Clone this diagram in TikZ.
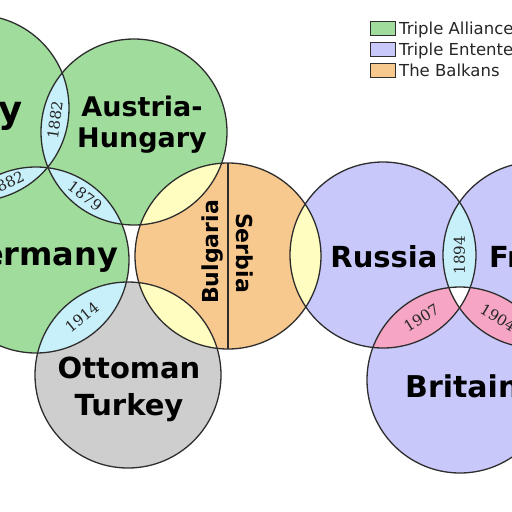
\documentclass[tikz,border=0pt]{standalone}
\usepackage{fontspec}
\setmainfont{DejaVu Sans}
\newfontfamily\yearfont{DejaVu Serif}
\usetikzlibrary{calc}

\definecolor{alliance}{RGB}{160,221,156}
\definecolor{entente}{RGB}{200,200,250}
\definecolor{balkanfill}{RGB}{248,201,143}
\definecolor{ottomanfill}{RGB}{206,206,206}
\definecolor{treaty}{RGB}{200,240,250}
\definecolor{accord}{RGB}{246,166,196}
\definecolor{border}{RGB}{255,253,192}
\definecolor{rim}{RGB}{45,45,45}

\tikzset{
  ring/.style={draw=rim, line width=1.3pt},
  country/.style={font=\bfseries\fontsize{#1}{#1}\selectfont, inner sep=0pt, anchor=base},
  year/.style={font=\yearfont\fontsize{15}{15}\selectfont, inner sep=0pt, text=black!85},
  keybox/.style={draw=rim, line width=1pt, minimum width=25pt, minimum height=14pt, inner sep=0pt},
  keytext/.style={font=\fontsize{16.5}{18}\selectfont, inner sep=0pt, text=black!85, anchor=base west}
}

\begin{document}
\begin{tikzpicture}[x=1pt, y=-1pt]
        \def\rad{93pt} % radius of every circle

        \useasboundingbox (0,0) rectangle (512,512);
        \clip (0,0) rectangle (512,512);

        % Define circle centres
        \foreach \name/\x/\y in {italy/-24/108, austria/134/132, germany/36/260, ottoman/128/375,
            balkans/228/256, russia/383/255, france/536/255, britain/460/380}
            \coordinate (\name) at (\x,\y);

        % Define circle fills
        \foreach \name/\col in {italy/alliance, austria/alliance, germany/alliance, ottoman/ottomanfill,
            balkans/balkanfill, russia/entente, france/entente, britain/entente}
            \fill[\col] (\name) circle (\rad);

        % Define overlaps of two circles
        \foreach \a/\b/\col in {italy/austria/treaty, italy/germany/treaty, austria/germany/treaty,
            germany/ottoman/treaty, austria/balkans/border, ottoman/balkans/border,
            balkans/russia/border, russia/france/treaty, russia/britain/accord, france/britain/accord} {
        \begin{scope}
            \clip (\a) circle (\rad);
            \fill[\col] (\b) circle (\rad);
        \end{scope}
        }

        % Define overlaps of three circles
        \foreach \a/\b/\c in {italy/austria/germany, russia/france/britain} {
        \begin{scope}
            \clip (\a) circle (\rad);
            \clip (\b) circle (\rad);
            \fill[white] (\c) circle (\rad);
        \end{scope}
        }

        % Define outlines
        \foreach \name in {italy, austria, germany, ottoman, balkans, russia, france, britain}
            \draw[ring] (\name) circle (\rad);
        \path (balkans) ++(0,-93) coordinate (splittop) ++(0,186) coordinate (splitbot);
        \draw[ring] (splittop) -- (splitbot);

        % Define country names
        \node[country=37] (italylabel) at (-24,122) {Italy};
        \node[country=27] (austrialabel) at (142,116) {Austria-};
        \node[country=27] (hungarylabel) at (142,147) {Hungary};
        \node[country=32] (germanylabel) at (37,265) {Germany};
        \node[country=29] (ottomanlabel) at (129,378) {Ottoman};
        \node[country=29] (turkeylabel) at (129,415) {Turkey};
        \node[country=22, rotate=90] (bulgarialabel) at (218,252) {Bulgaria};
        \node[country=22, rotate=-90] (serbialabel) at (236,253) {Serbia};
        \node[country=29] (russialabel) at (384,267) {Russia};
        \node[country=29, anchor=base west] (francelabel) at (489,267) {France};
        \node[country=30, anchor=base west] (britainlabel) at (405,397) {Britain};

        % Define treaty years
        \foreach \a/\b/\ang/\yr in {italy/austria/82/1882, italy/germany/25/1882, austria/germany/-37/1879,
            germany/ottoman/39/1914, russia/france/90/1894, russia/britain/32/1907, france/britain/-31/1904}
            \node[year, rotate=\ang] (y\a\b) at ($(\a)!0.5!(\b)$) {\yr};

        % Define legend
        \foreach \i/\col/\entry in {0/alliance/Triple Alliance, 1/entente/Triple Entente, 2/balkanfill/The Balkans} {
        \node[keybox, fill=\col] (key\i) at (382.5,28+\i*21) {};
        \node[keytext] (keylabel\i) at (399,34+\i*21) {\entry};
        }
    \end{tikzpicture}
\end{document}
